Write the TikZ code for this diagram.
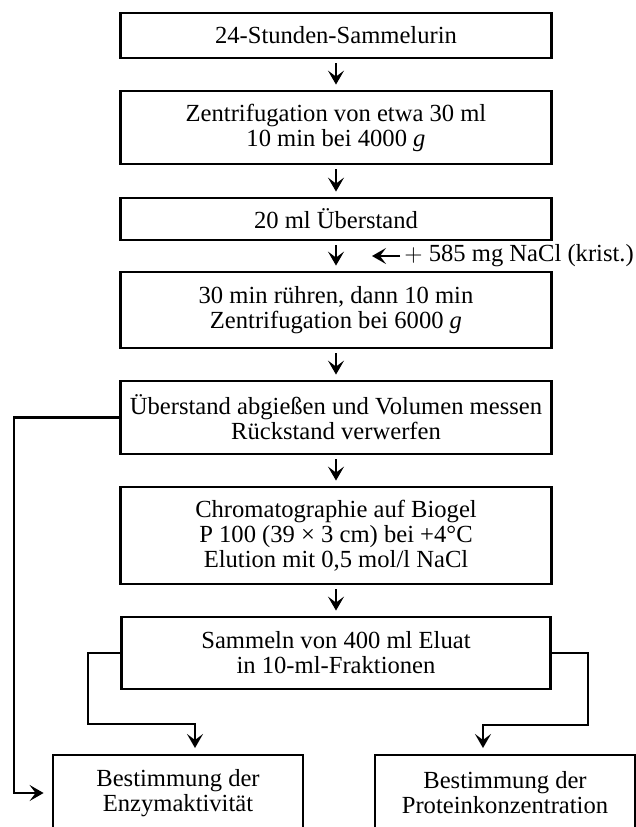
\documentclass[tikz,border=0pt]{standalone}
\usepackage{fontspec}
\setmainfont{Liberation Serif}
\usetikzlibrary{arrows.meta}
\tikzset{
  stufe/.style={draw, line width=1.4pt, align=center, inner sep=0pt,
    minimum width=215.5pt, font=\fontsize{12.3pt}{12.5pt}\selectfont},
  pfeil/.style={line width=1.3pt, -{Stealth[length=7pt,width=8pt,inset=3pt]}, shorten >=2.5pt}
}
\begin{document}
\begin{tikzpicture}  % ------ Aufarbeitung Sammelurin  --------------
      [x=0.5pt,y=-0.5pt]
    \useasboundingbox (0,0) rectangle (636,827);
    \coordinate (links) at (14,0);
    \coordinate (knickL) at (88,724);
    \coordinate (knickR) at (588,725);
    \coordinate (zielL) at (195,755);
    \coordinate (zielR) at (483,755);
    \coordinate (naclziel) at (367,256);

    \node[stufe, minimum height=22.5pt] (b1) at (336,35.5) {24-Stunden-Sammelurin};
    \node[stufe, minimum height=36.5pt] (b2) at (336,127.5) {Zentrifugation von etwa 30 ml\\10 min bei 4000 \textit{g}};
    \node[stufe, minimum height=21pt] (b3) at (336,219) {20 ml Überstand};
    \node[stufe, minimum height=38pt] (b4) at (336,310) {30 min rühren, dann 10 min\\Zentrifugation bei 6000 \textit{g}};
    \node[stufe, minimum height=36.5pt] (b5) at (336,417.5) {Überstand abgießen und Volumen messen\\Rückstand verwerfen};
    \node[stufe, minimum height=48.5pt] (b6) at (336,535.5) {Chromatographie auf Biogel\\P 100 (39 × 3 cm) bei +4°C\\Elution mit 0,5 mol/l NaCl};
    \node[stufe, minimum width=214.5pt, minimum height=36pt] (b7) at (336,653) {Sammeln von 400 ml Eluat\\in 10-ml-Fraktionen};
    \node[stufe, minimum width=125pt, minimum height=38pt] (b8) at (178,793) {Bestimmung der\\Enzymaktivität};
    \node[stufe, minimum width=130pt, minimum height=38pt] (b9) at (505,793) {Bestimmung der\\Proteinkonzentration};
    \node[anchor=west, inner sep=0pt, font=\fontsize{12.3pt}{12.5pt}\selectfont] (nacl) at (404,256) {$+$ 585 mg NaCl (krist.)};

    % Hauptweg
    \foreach \a/\b in {b1/b2, b2/b3, b3/b4, b4/b5, b5/b6, b6/b7}
      \draw[pfeil, shorten <=2pt] (\a) -- (\b);
    \draw[pfeil, shorten <=2pt] (nacl.west) -- (naclziel);

    % Verzweigungen
    \draw[pfeil, shorten >=4pt] (b5.west) -- (b5.west -| links) |- (b8.west);
    \draw[pfeil, shorten >=3.5pt] (b7.west) -| (knickL) -| (zielL);
    \draw[pfeil, shorten >=3.5pt] (b7.east) -| (knickR) -| (zielR);
\end{tikzpicture}
\end{document}
